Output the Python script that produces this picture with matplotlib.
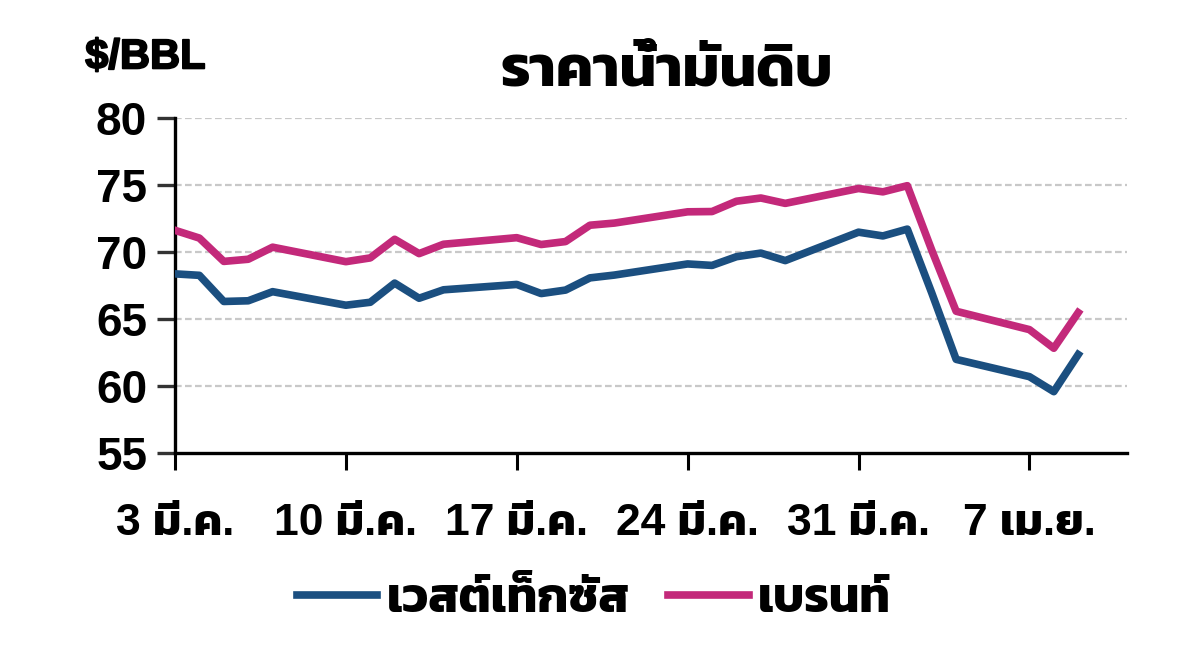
# ราคาน้ำมันดิบ WTI / Brent
import matplotlib
matplotlib.use("Agg")
import matplotlib.pyplot as plt
import matplotlib.patheffects as pe
from matplotlib.font_manager import FontProperties
import pandas as pd

plt.rcParams['font.family'] = ['Liberation Sans', 'Kanit']
plt.rcParams['font.weight'] = 'bold'

# data (trading days)
dates = ["2025-03-03", "2025-03-04", "2025-03-05", "2025-03-06", "2025-03-07",
         "2025-03-10", "2025-03-11", "2025-03-12", "2025-03-13", "2025-03-14",
         "2025-03-17", "2025-03-18", "2025-03-19", "2025-03-20", "2025-03-21",
         "2025-03-24", "2025-03-25", "2025-03-26", "2025-03-27", "2025-03-28",
         "2025-03-31", "2025-04-01", "2025-04-02", "2025-04-03", "2025-04-04",
         "2025-04-07", "2025-04-08", "2025-04-09"]
wti = [68.37, 68.26, 66.31, 66.36, 67.04,
       66.03, 66.25, 67.68, 66.55, 67.18,
       67.58, 66.90, 67.16, 68.07, 68.28,
       69.11, 69.00, 69.65, 69.92, 69.36,
       71.48, 71.20, 71.71, 66.95, 61.99,
       60.70, 59.58, 62.35]
brent = [71.62, 71.04, 69.30, 69.46, 70.36,
         69.28, 69.56, 70.95, 69.88, 70.58,
         71.07, 70.56, 70.78, 72.00, 72.16,
         73.00, 73.02, 73.79, 74.03, 73.63,
         74.74, 74.49, 74.95, 70.14, 65.58,
         64.21, 62.82, 65.48]
tick_dates = ["2025-03-03", "2025-03-10", "2025-03-17", "2025-03-24", "2025-03-31", "2025-04-07"]
tick_labels = ["3 มี.ค.", "10 มี.ค.", "17 มี.ค.", "24 มี.ค.", "31 มี.ค.", "7 เม.ย."]
y_ticks = [55, 60, 65, 70, 75, 80]

x = pd.to_datetime(dates)

fig = plt.figure(figsize=(12, 6.6), dpi=100)
ax = fig.add_axes([0.1458, 0.3136, 0.7934, 0.5076])

ax.plot(x, wti, color='#1b4f80', lw=5.5, solid_joinstyle='round', label="เวสต์เท็กซัส", zorder=3)
ax.plot(x, brent, color='#c3297a', lw=5.5, solid_joinstyle='round', label="เบรนท์", zorder=3)

ax.set_ylim(55, 80)
ax.set_yticks(y_ticks)
ax.set_xlim(pd.Timestamp("2025-03-03"), pd.Timestamp("2025-04-11"))
ax.set_xticks(pd.to_datetime(tick_dates))
ax.set_xticklabels(tick_labels)

for v in y_ticks[1:]:
    ax.axhline(v, color='#c8c8c8', lw=1.6, ls=(0, (3, 1.5)), zorder=1)

for s in ['top', 'right']:
    ax.spines[s].set_visible(False)
for s in ['left', 'bottom']:
    ax.spines[s].set_linewidth(2.4)
    ax.spines[s].set_color('black')

ax.tick_params(axis='y', length=13, width=2.4, pad=7, labelsize=33, color='#333333')
ax.tick_params(axis='x', length=12, width=2.2, pad=24, labelsize=32)

# หน่วย: ตัวหนาขึ้นอีกนิดด้วย stroke
unit_font = FontProperties(family='Liberation Sans', weight='bold', size=30)
fig.text(0.071, 0.913, "$/BBL", fontproperties=unit_font, ha='left', va='center',
         path_effects=[pe.withStroke(linewidth=1.3, foreground='black')])
fig.text(0.556, 0.893, "ราคาน้ำมันดิบ", fontsize=42, fontweight='bold', ha='center', va='center')

fig.legend(loc='center', bbox_to_anchor=(0.495, 0.092), ncol=2, frameon=False,
           fontsize=35, handlelength=1.65, handletextpad=0.2, columnspacing=0.8)

fig.savefig("out.png", dpi=100)
